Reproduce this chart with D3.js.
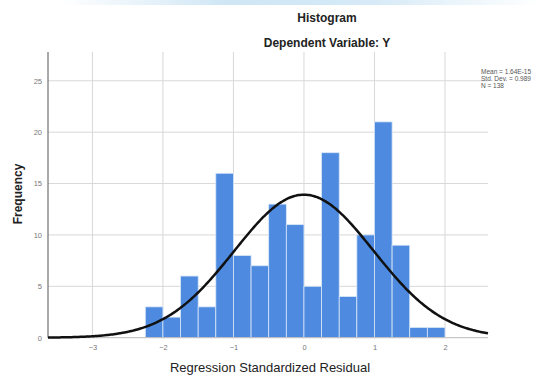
<!DOCTYPE html>
<html><head><meta charset="utf-8">
<script src="https://cdn.jsdelivr.net/npm/d3@7"></script>
<style>body{margin:0;background:#fff}svg{display:block}text{font-family:"Liberation Sans",Arial,sans-serif}</style>
</head><body><svg id="c" width="558" height="376"></svg>
<script>
const binStarts = [-2.25,-2.0,-1.75,-1.5,-1.25,-1.0,-0.75,-0.5,-0.25,0.0,0.25,0.5,0.75,1.0,1.25,1.5,1.75];
const frequencies = [3,2,6,3,16,8,7,13,11,5,18,4,10,21,9,1,1];
const binWidth = 0.25;
const xTicks = [-3,-2,-1,0,1,2];
const yTicks = [0,5,10,15,20,25];
const mean = 0, sd = 0.989, n = 138;
const legendLines = ["Mean = 1.64E-15","Std. Dev. = 0.989","N = 138"];

const svg = d3.select("#c");
const L=48,R=488,T=52,B=337.7;
const x = d3.scaleLinear().domain([-3.63,2.61]).range([L,R]);
const y = d3.scaleLinear().domain([0,27.8]).range([B,T]);

// top banner artifact
const defs = svg.append("defs");
const g1 = defs.append("linearGradient").attr("id","ban");
g1.append("stop").attr("offset","0%").attr("stop-color","#fff");
g1.append("stop").attr("offset","35%").attr("stop-color","#cfe6f5");
g1.append("stop").attr("offset","65%").attr("stop-color","#d6eaf7");
g1.append("stop").attr("offset","100%").attr("stop-color","#fff");
svg.append("rect").attr("x",60).attr("y",0).attr("width",480).attr("height",5).attr("fill","url(#ban)");

// gridlines
svg.append("g").selectAll("line").data(xTicks).join("line")
  .attr("x1",d=>x(d)).attr("x2",d=>x(d)).attr("y1",T).attr("y2",B)
  .attr("stroke","#d8d8d8").attr("stroke-width",1);
svg.append("g").selectAll("line").data(yTicks.filter(d=>d>0)).join("line")
  .attr("x1",L).attr("x2",R).attr("y1",d=>y(d)).attr("y2",d=>y(d))
  .attr("stroke","#d8d8d8").attr("stroke-width",1);

// bars
svg.append("g").selectAll("rect").data(binStarts).join("rect")
  .attr("x",(d)=>x(d)).attr("width",(d)=>x(d+binWidth)-x(d))
  .attr("y",(d,i)=>y(frequencies[i])).attr("height",(d,i)=>B-y(frequencies[i]))
  .attr("fill","#4d8ae0").attr("stroke","#d9e7f8").attr("stroke-width",0.8);

// baseline & y axis line
svg.append("line").attr("x1",L).attr("x2",R).attr("y1",B).attr("y2",B).attr("stroke","#bbb");
svg.append("line").attr("x1",L).attr("x2",L).attr("y1",T).attr("y2",B).attr("stroke","#555").attr("stroke-width",1);

// normal curve
const pts = d3.range(0,301).map(i=>{
  const v = -3.63 + i*(2.61+3.63)/300;
  const dens = n*binWidth/(sd*Math.sqrt(2*Math.PI))*Math.exp(-0.5*((v-mean)/sd)**2);
  return [v,dens];
});
svg.append("path").datum(pts)
  .attr("d",d3.line().x(d=>x(d[0])).y(d=>y(d[1])).curve(d3.curveBasis))
  .attr("fill","none").attr("stroke","#111").attr("stroke-width",2.5);

// axes labels
const xa = d3.axisBottom(x).tickValues(xTicks).tickFormat(d3.format("d")).tickSize(0).tickPadding(7);
const gx = svg.append("g").attr("transform",`translate(0,${B})`).call(xa);
gx.select(".domain").remove();
gx.selectAll("text").attr("font-size",7.5).attr("fill","#777").attr("font-family","Liberation Sans,Arial,sans-serif");
const ya = d3.axisLeft(y).tickValues(yTicks).tickFormat(d3.format("d")).tickSize(0).tickPadding(6);
const gy = svg.append("g").attr("transform",`translate(${L},0)`).call(ya);
gy.select(".domain").remove();
gy.selectAll("text").attr("font-size",7.5).attr("fill","#777").attr("font-family","Liberation Sans,Arial,sans-serif");

// titles
svg.append("text").attr("x",327).attr("y",22).attr("text-anchor","middle").attr("font-size",12).attr("font-weight","bold").attr("fill","#222").text("Histogram");
svg.append("text").attr("x",327).attr("y",47).attr("text-anchor","middle").attr("font-size",12).attr("font-weight","bold").attr("fill","#222").text("Dependent Variable: Y");
svg.append("text").attr("x",270).attr("y",372).attr("text-anchor","middle").attr("font-size",13).attr("fill","#222").text("Regression Standardized Residual");
svg.append("text").attr("transform","translate(22,194) rotate(-90)").attr("text-anchor","middle").attr("font-size",12).attr("font-weight","bold").attr("fill","#222").text("Frequency");

// legend
svg.append("g").selectAll("text").data(legendLines).join("text")
  .attr("x",481).attr("y",(d,i)=>74+i*7).attr("font-size",6.5).attr("fill","#555").text(d=>d);
</script></body></html>
